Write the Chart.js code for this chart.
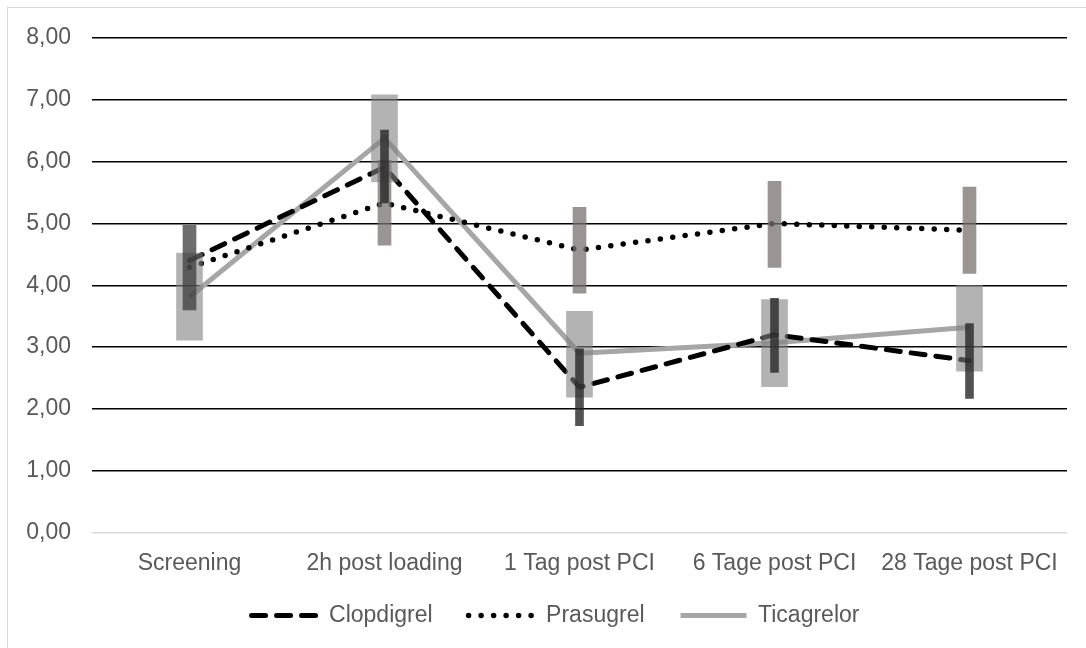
<!DOCTYPE html>
<html>
<head>
<meta charset="utf-8">
<script src="https://cdn.jsdelivr.net/npm/chart.js@4.4.1/dist/chart.umd.min.js"></script>
<style>
  html, body { margin: 0; padding: 0; background: #fff; overflow: hidden; }
  #rahmen { position: absolute; left: 7px; top: 7px; width: 1200px; height: 700px; border: 1.5px solid #d9d9d9; }
  #wrap { position: absolute; left: 0; top: 0; width: 1086px; height: 648px; }
</style>
</head>
<body>
<div id="rahmen"></div>
<div id="wrap"><canvas id="grafik" width="1086" height="648"></canvas></div>
<script>
// Kategorien und Werte
const zeitpunkte = ['Screening', '2h post loading', '1 Tag post PCI', '6 Tage post PCI', '28 Tage post PCI'];
const yTicks = [0, 1, 2, 3, 4, 5, 6, 7, 8];

const clopMittel = [4.40, 5.91, 2.35, 3.20, 2.78];
const prasMittel = [4.29, 5.33, 4.57, 5.00, 4.89];
const ticaMittel = [3.81, 6.38, 2.90, 3.07, 3.32];

// Streubereiche [unten, oben]
const clopBereich = [null, [5.33, 6.51], [1.73, 2.97], [2.59, 3.79], [2.17, 3.38]];
const prasBereich = [[3.60, 4.97], [4.65, 6.02], [3.87, 5.26], [4.29, 5.68], [4.19, 5.59]];
const ticaBereich = [[3.11, 4.52], [5.67, 7.08], [2.19, 3.58], [2.36, 3.77], [2.61, 4.00]];

const schrift = { family: '"Liberation Sans", Arial, sans-serif', size: 23 };
const textFarbe = '#595959';

function linie(label, werte, farbe, breite, dash, cap) {
    return {
        type: 'line', label: label, data: werte,
        borderColor: farbe, backgroundColor: farbe,
        borderWidth: breite, borderDash: dash, borderCapStyle: cap, borderJoinStyle: 'round',
        pointRadius: 0, tension: 0, fill: false, order: 3
    };
}

function balken(label, werte, farbe, dicke, ord) {
    return {
        type: 'bar', label: label, data: werte,
        backgroundColor: farbe, borderWidth: 0,
        barThickness: dicke, grouped: false, order: ord
    };
}

const prasFarben = zeitpunkte.map((z, i) => i === 0 ? 'rgba(60,60,60,0.75)' : 'rgba(120,112,110,0.75)');

// Legende etwas nach rechts/oben ruecken (wie im Original)
const legendeVerschieben = {
    id: 'legendeVerschieben',
    afterLayout(chart) {
        const l = chart.legend;
        l.left += 22; l.right += 22;
        l.top -= 11; l.bottom -= 11;
    }
};

new Chart(document.getElementById('grafik'), {
    type: 'line',
    data: {
        labels: zeitpunkte,
        datasets: [
            linie('Clopdigrel', clopMittel, '#000000', 5, [14, 11], 'round'),
            linie('Prasugrel', prasMittel, '#000000', 5.5, [0, 12.5], 'round'),
            linie('Ticagrelor', ticaMittel, '#a6a6a6', 5, [], 'butt'),
            balken('Clop SD', clopBereich, 'rgba(40,40,40,0.8)', 8, 0),
            balken('Pras SD', prasBereich, prasFarben, 13, 1),
            balken('Tica SD', ticaBereich, 'rgba(128,128,128,0.6)', 26, 2)
        ]
    },
    plugins: [legendeVerschieben],
    options: {
        responsive: false,
        animation: false,
        layout: { padding: { left: 0, right: 19, top: 38, bottom: 0 } },
        scales: {
            x: {
                type: 'category',
                offset: true,
                grid: { display: false },
                border: { display: false },
                ticks: { font: schrift, color: textFarbe, padding: 9, maxRotation: 0, autoSkip: false },
                afterFit: s => { s.height = 46.5; }
            },
            y: {
                min: 0, max: 8,
                afterBuildTicks: s => { s.ticks = yTicks.map(v => ({ value: v })); },
                border: { display: false },
                grid: {
                    drawTicks: false,
                    lineWidth: 1.5,
                    color: c => c.tick && c.tick.value === 0 ? '#d9d9d9' : '#000000'
                },
                ticks: {
                    font: schrift, color: textFarbe, padding: 21,
                    callback: v => v.toFixed(2).replace('.', ',')
                },
                afterFit: s => { s.width = 92; }
            }
        },
        plugins: {
            legend: {
                position: 'bottom',
                labels: {
                    font: schrift, color: textFarbe,
                    usePointStyle: true, pointStyleWidth: 66, boxHeight: 23,
                    padding: 36,
                    generateLabels: chart => chart.data.datasets.slice(0, 3).map((ds, i) => ({
                        text: ds.label,
                        fillStyle: ds.borderColor,
                        strokeStyle: ds.borderColor,
                        lineWidth: ds.borderWidth,
                        lineDash: ds.borderDash,
                        lineCap: ds.borderCapStyle,
                        pointStyle: 'line',
                        fontColor: textFarbe,
                        hidden: false,
                        datasetIndex: i
                    }))
                }
            },
            tooltip: { enabled: false }
        }
    }
});
</script>
</body>
</html>
